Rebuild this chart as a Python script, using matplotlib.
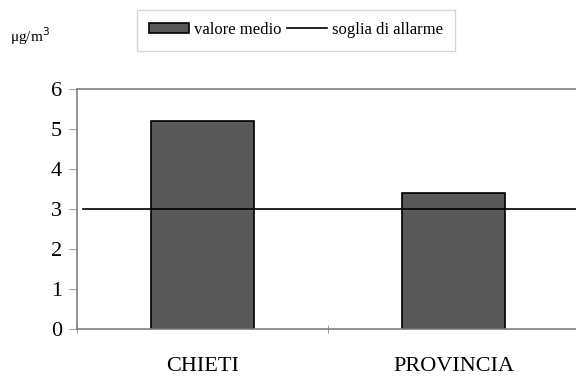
import matplotlib.pyplot as plt
from matplotlib.patches import Patch
from matplotlib.lines import Line2D

plt.rcParams["font.family"] = ["Liberation Serif", "DejaVu Serif"]

categories = ["CHIETI", "PROVINCIA"]
valore_medio = [5.2, 3.4]
soglia_allarme = 3
y_ticks = [0, 1, 2, 3, 4, 5, 6]

fig = plt.figure(figsize=(5.76, 3.76), dpi=100)
ax = fig.add_axes([0.134, 0.125, 0.872, 0.638])

x = list(range(len(categories)))
ax.bar(x, valore_medio, width=0.41, color="#595959", edgecolor="black", linewidth=1.2, zorder=2)
ax.axhline(soglia_allarme, xmin=0.012, xmax=1, color="black", linewidth=1.2, zorder=3)

ax.set_xlim(-0.5, len(categories) - 0.5)
ax.set_ylim(0, 6)
ax.set_yticks(y_ticks)
ax.set_xticks(x)
ax.set_xticklabels(categories, fontsize=16)
ax.set_xticks([-0.5, 0.5, 1.5], minor=True)
ax.tick_params(axis="x", which="major", length=0, pad=20)
ax.tick_params(axis="x", which="minor", length=6, direction="inout", color="#888888")
ax.tick_params(axis="y", labelsize=16, length=6, color="#aaaaaa", pad=5)

for side in ["left", "bottom", "top"]:
    ax.spines[side].set_color("#808080")
    ax.spines[side].set_linewidth(1.2)
ax.spines["right"].set_visible(False)

fig.text(0.017, 0.905, "μg/m$^3$", fontsize=11, va="center")

handles = [
    Patch(facecolor="#595959", edgecolor="black", linewidth=1.2),
    Line2D([0], [0], color="black", linewidth=1.2),
]
fig.legend(handles, ["valore medio", "soglia di allarme"], loc="center",
           bbox_to_anchor=(0.514, 0.92), ncol=2, fontsize=12, frameon=True,
           fancybox=False, edgecolor="#cccccc", handlelength=2.4, handleheight=0.6,
           columnspacing=0.3, handletextpad=0.3, borderpad=0.75)

fig.savefig("out.png", dpi=100)
